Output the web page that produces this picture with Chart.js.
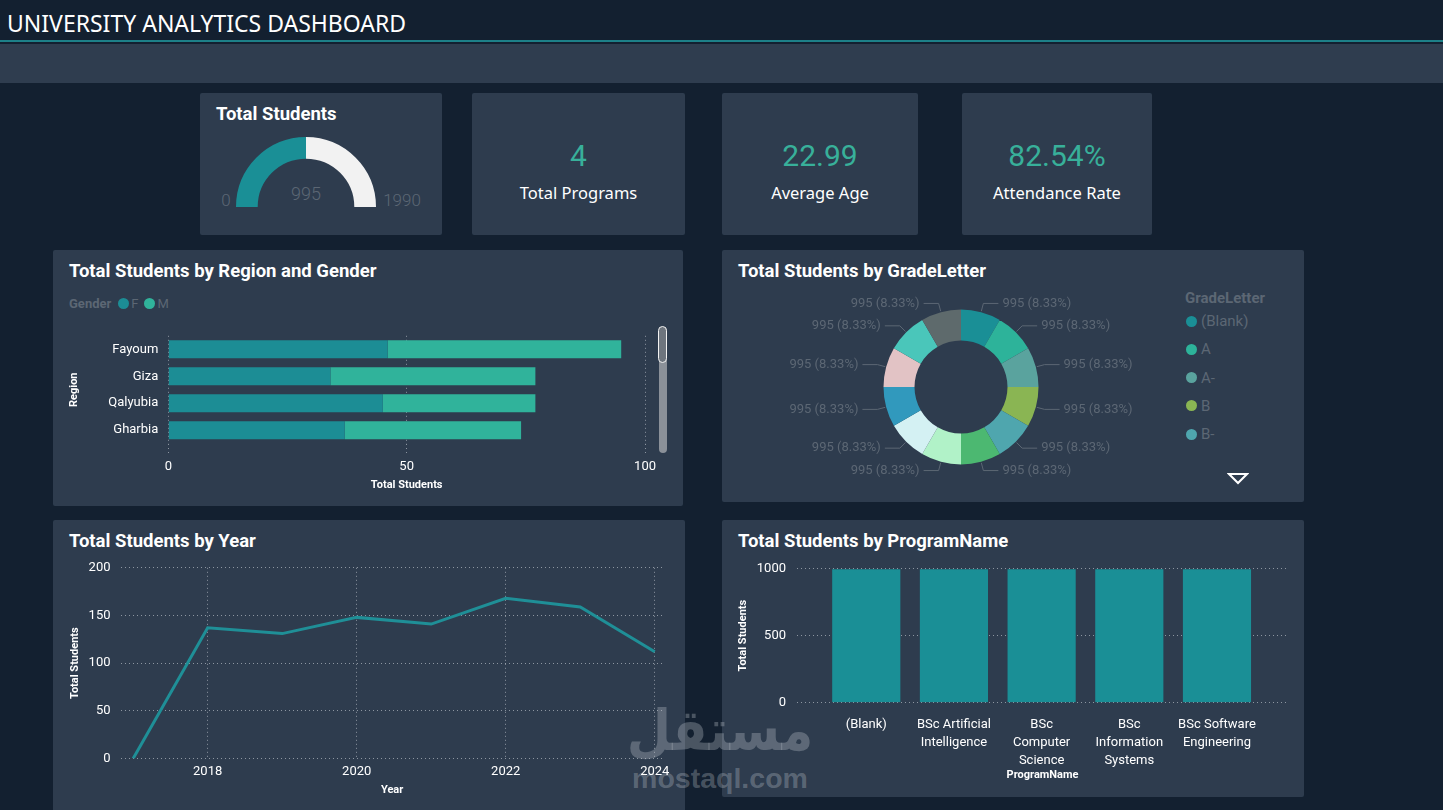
<!DOCTYPE html>
<html>
<head>
<meta charset="utf-8">
<title>University Analytics Dashboard</title>
<script src="https://cdn.jsdelivr.net/npm/chart.js@4.4.1/dist/chart.umd.min.js"></script>
<style>
  html, body { margin: 0; padding: 0; }
  body {
    width: 1443px; height: 810px; overflow: hidden; position: relative;
    background: #132030; color: #fff; font-family: "Noto Sans", sans-serif;
  }
  .abs { position: absolute; }
  .card { position: absolute; background: #2e3c4e; border-radius: 2px; }
  .title { position: absolute; font-family: Roboto; font-weight: 700; font-size: 18.5px; line-height: 22px; white-space: nowrap; }
  .kpi { position: absolute; left: 0; right: 0; text-align: center; }
  .kpi-val { font-family: Roboto; font-size: 30px; color: #38b09a; line-height: 36px; }
  .kpi-lbl { font-size: 16.5px; line-height: 22px; }
  .dim { color: #5c6774; }
  .box { position: absolute; z-index: 2; }
  .dot { display: inline-block; width: 11px; height: 11px; border-radius: 50%; vertical-align: middle; }
</style>
</head>
<body>

<!-- header -->
<div class="abs" style="left:7px;top:7px;font-size:23px;line-height:32px;">UNIVERSITY ANALYTICS DASHBOARD</div>
<div class="abs" style="left:0;top:40px;width:1443px;height:2px;background:#1d8088;"></div>
<div class="abs" style="left:0;top:44px;width:1443px;height:39px;background:#2f3d4f;"></div>

<!-- KPI cards -->
<div class="card" style="left:200px;top:93px;width:242px;height:142px;">
  <div class="title" style="left:16px;top:10px;">Total Students</div>
</div>
<div class="box" style="left:236px;top:137px;width:140px;height:70px;"><canvas id="gauge"></canvas></div>
<div class="abs dim" id="gMin" style="left:219px;top:188px;width:14px;text-align:center;font-family:Roboto;font-weight:300;font-size:17px;line-height:24px;"></div>
<div class="abs dim" id="gVal" style="left:276px;top:182px;width:60px;text-align:center;font-family:Roboto;font-weight:300;font-size:18px;line-height:24px;"></div>
<div class="abs dim" id="gMax" style="left:380px;top:188px;width:44px;text-align:center;font-family:Roboto;font-weight:300;font-size:17px;line-height:24px;"></div>

<div class="card" style="left:472px;top:93px;width:213px;height:142px;">
  <div class="kpi kpi-val" style="top:45px;" id="kProg"></div>
  <div class="kpi kpi-lbl" style="top:89px;">Total Programs</div>
</div>
<div class="card" style="left:722px;top:93px;width:196px;height:142px;">
  <div class="kpi kpi-val" style="top:45px;" id="kAge"></div>
  <div class="kpi kpi-lbl" style="top:89px;">Average Age</div>
</div>
<div class="card" style="left:962px;top:93px;width:190px;height:142px;">
  <div class="kpi kpi-val" style="top:45px;" id="kAtt"></div>
  <div class="kpi kpi-lbl" style="top:89px;">Attendance Rate</div>
</div>

<!-- region / gender -->
<div class="card" style="left:53px;top:250px;width:630px;height:256px;">
  <div class="title" style="left:16px;top:10px;">Total Students by Region and Gender</div>
</div>
<div class="abs" id="genderLegend" style="left:69px;top:295px;font-family:Roboto;font-size:13px;line-height:18px;color:#5c6774;white-space:nowrap;"></div>
<div class="box" style="left:60px;top:318px;width:600px;height:182px;"><canvas id="regionChart"></canvas></div>
<div class="abs" style="left:659px;top:327px;width:8px;height:126px;background:#8b9199;border-radius:4px;"></div>
<div class="abs" style="left:658px;top:326px;width:7px;height:35px;background:#6e757e;border:1.5px solid #f2f2f2;border-radius:5px;"></div>

<!-- grade letter -->
<div class="card" style="left:722px;top:250px;width:582px;height:252px;">
  <div class="title" style="left:16px;top:10px;">Total Students by GradeLetter</div>
</div>
<div class="box" style="left:741px;top:287px;width:440px;height:200px;"><canvas id="gradeChart"></canvas></div>
<div class="abs" id="gradeLegend" style="left:1185px;top:287px;font-family:Roboto;font-size:15px;color:#5c6774;white-space:nowrap;"></div>
<svg class="abs" style="left:1227px;top:472px;" width="22" height="13">
  <polygon points="2,2 20,2 11,11" fill="none" stroke="#ffffff" stroke-width="2"/>
</svg>

<!-- by year -->
<div class="card" style="left:53px;top:520px;width:632px;height:292px;">
  <div class="title" style="left:16px;top:10px;">Total Students by Year</div>
</div>

<!-- by program -->
<div class="card" style="left:722px;top:520px;width:582px;height:277px;">
  <div class="title" style="left:16px;top:10px;">Total Students by ProgramName</div>
</div>

<!-- watermark (under the chart canvases) -->
<div class="abs" style="left:620px;top:699px;width:200px;text-align:center;color:rgba(202,208,214,0.3);font-weight:700;z-index:1;">
  <div style="font-family:'DejaVu Sans';font-size:51px;line-height:64px;transform:scaleY(1.12);" dir="rtl">مستقل</div>
  <div style="font-family:'Liberation Sans';font-size:28.5px;line-height:30px;">mostaql.com</div>
</div>

<div class="box" style="left:60px;top:549.5px;width:615px;height:250.5px;"><canvas id="yearChart"></canvas></div>
<div class="box" style="left:728px;top:549.5px;width:570px;height:245.5px;"><canvas id="programChart"></canvas></div>

<script>
// ---- data ----
const totalStudents = 995;
const gaugeMax = 1990;
const totalPrograms = 4;
const averageAge = 22.99;
const attendanceRate = 82.54;

const regions = ["Fayoum", "Giza", "Qalyubia", "Gharbia"];
const genders = ["F", "M"];
const femaleCounts = [46, 34, 45, 37];
const maleCounts = [49, 43, 32, 37];
const regionTicks = [0, 50, 100];

const gradeLetters = ["(Blank)", "A", "A-", "B", "B-", "B+", "C", "C-", "C+", "D", "D+", "F"];
const gradeCounts = [995, 995, 995, 995, 995, 995, 995, 995, 995, 995, 995, 995];
const gradeLegendShown = 5;

const years = [2017, 2018, 2019, 2020, 2021, 2022, 2023, 2024];
const yearCounts = [0, 137, 131, 148, 141, 168, 159, 112];
const yearTicks = [2018, 2020, 2022, 2024];

const programNames = ["(Blank)", "BSc Artificial Intelligence", "BSc Computer Science", "BSc Information Systems", "BSc Software Engineering"];
const programTickLines = [["(Blank)"], ["BSc Artificial", "Intelligence"], ["BSc", "Computer", "Science"], ["BSc", "Information", "Systems"], ["BSc Software", "Engineering"]];
const programCounts = [995, 995, 995, 995, 995];

// ---- styles ----
const TEAL = "#1a8f96";
const F_COLOR = "#1c8d95";
const M_COLOR = "#30b39b";
const GRADE_COLORS = ["#1a8f96", "#2db39a", "#5aa39e", "#8ab553", "#4fa6ae", "#4cb871",
                      "#b1f2c8", "#d4f1f3", "#3199bd", "#e2c3c5", "#4ac6ba", "#5e6a6c"];
const DIM = "#5c6774";
const GRID = "rgba(205,210,216,0.6)";
const AXIS_TITLE_FONT = { family: "Roboto", size: 11, weight: "bold" };
const TICK_FONT = { family: "Roboto", size: 13 };

Chart.defaults.font.family = "Roboto";
Chart.defaults.color = "#ffffff";
Chart.defaults.animation = false;
Chart.defaults.plugins.legend.display = false;
Chart.defaults.plugins.tooltip.enabled = false;

// ---- KPI text ----
document.getElementById("kProg").textContent = totalPrograms;
document.getElementById("kAge").textContent = averageAge.toFixed(2);
document.getElementById("kAtt").textContent = attendanceRate.toFixed(2) + "%";
document.getElementById("gMin").textContent = 0;
document.getElementById("gVal").textContent = totalStudents;
document.getElementById("gMax").textContent = gaugeMax;

// ---- legends ----
document.getElementById("genderLegend").innerHTML =
  '<b style="margin-right:7px">Gender</b>' +
  genders.map((g, i) => '<span class="dot" style="background:' + [F_COLOR, M_COLOR][i] +
    ';margin-right:2px;position:relative;top:-1px"></span><span style="margin-right:6px">' + g + '</span>').join("");

document.getElementById("gradeLegend").innerHTML =
  '<div style="font-weight:700;line-height:22px;margin-bottom:2px">GradeLetter</div>' +
  gradeLetters.slice(0, gradeLegendShown).map((g, i) =>
    '<div style="height:28.3px;line-height:20px"><span class="dot" style="background:' + GRADE_COLORS[i] +
    ';margin-left:1px;margin-right:4px;position:relative;top:-1px"></span>' + g + '</div>').join("");

// ---- gauge ----
new Chart(document.getElementById("gauge"), {
  type: "doughnut",
  data: {
    labels: ["Total Students", "Remaining"],
    datasets: [{ data: [totalStudents, gaugeMax - totalStudents], backgroundColor: [TEAL, "#f2f2f2"], borderWidth: 0 }]
  },
  options: { responsive: true, maintainAspectRatio: false, rotation: -90, circumference: 180, cutout: "69%" }
});

// ---- region and gender ----
new Chart(document.getElementById("regionChart"), {
  type: "bar",
  data: {
    labels: regions,
    datasets: [
      { label: genders[0], data: femaleCounts, backgroundColor: F_COLOR },
      { label: genders[1], data: maleCounts, backgroundColor: M_COLOR }
    ]
  },
  options: {
    indexAxis: "y",
    responsive: true, maintainAspectRatio: false,
    layout: { padding: { top: 15.6, right: 12.4, bottom: 0, left: 0 } },
    datasets: { bar: { barPercentage: 0.67, categoryPercentage: 1 } },
    scales: {
      x: {
        stacked: true, min: 0, max: 100,
        afterBuildTicks: s => { s.ticks = regionTicks.map(v => ({ value: v })); },
        ticks: { font: TICK_FONT, padding: 4 },
        grid: { color: GRID, tickColor: GRID, tickLength: 11, tickBorderDash: [1, 3] },
        border: { display: false, dash: [1, 3] },
        title: { display: true, text: "Total Students", font: AXIS_TITLE_FONT, padding: { top: 0, bottom: 8.4 } },
        afterFit: s => { s.height = 56.3; }
      },
      y: {
        stacked: true,
        grid: { display: false, drawTicks: false },
        border: { display: false },
        ticks: { font: TICK_FONT, padding: 10 },
        title: { display: true, text: "Region", font: AXIS_TITLE_FONT, padding: { top: 8, bottom: 0 } },
        afterFit: s => { s.width = 108.3; }
      }
    }
  }
});

// ---- grade letter donut ----
const donutLabels = {
  id: "donutLabels",
  afterDatasetsDraw(chart) {
    const ctx = chart.ctx;
    const values = chart.data.datasets[0].data;
    const total = values.reduce((a, b) => a + b, 0);
    ctx.save();
    ctx.strokeStyle = DIM;
    ctx.fillStyle = DIM;
    ctx.lineWidth = 1;
    ctx.font = "13px Roboto";
    ctx.textBaseline = "middle";
    chart.getDatasetMeta(0).data.forEach((arc, i) => {
      const p = arc.getProps(["x", "y", "startAngle", "endAngle", "outerRadius"], true);
      const mid = (p.startAngle + p.endAngle) / 2;
      const c = Math.cos(mid), s = Math.sin(mid);
      const x0 = p.x + c * (p.outerRadius + 1), y0 = p.y + s * (p.outerRadius + 1);
      const x1 = p.x + c * (p.outerRadius + 9), y1 = p.y + s * (p.outerRadius + 9);
      const dir = c >= 0 ? 1 : -1;
      const x2 = x1 + dir * 15;
      ctx.beginPath();
      ctx.moveTo(x0, y0);
      ctx.lineTo(x1, y1);
      ctx.lineTo(x2, y1);
      ctx.stroke();
      ctx.textAlign = dir > 0 ? "left" : "right";
      ctx.fillText(values[i] + " (" + (values[i] / total * 100).toFixed(2) + "%)", x2 + dir * 4, y1);
    });
    ctx.restore();
  }
};

new Chart(document.getElementById("gradeChart"), {
  type: "doughnut",
  data: {
    labels: gradeLetters,
    datasets: [{ data: gradeCounts, backgroundColor: GRADE_COLORS, borderWidth: 0 }]
  },
  options: {
    responsive: true, maintainAspectRatio: false,
    cutout: "60%",
    layout: { padding: { top: 22.5, bottom: 22.5 } }
  },
  plugins: [donutLabels]
});

// ---- by year ----
new Chart(document.getElementById("yearChart"), {
  type: "line",
  data: {
    datasets: [{
      label: "Total Students",
      data: years.map((y, i) => ({ x: y, y: yearCounts[i] })),
      borderColor: "#1f8f97", borderWidth: 3, pointRadius: 0, tension: 0
    }]
  },
  options: {
    responsive: true, maintainAspectRatio: false,
    layout: { padding: { top: 7.3, right: 11.3, bottom: 0, left: 0 } },
    scales: {
      x: {
        type: "linear", min: 2016.83, max: 2024.12,
        afterBuildTicks: s => { s.ticks = yearTicks.map(v => ({ value: v })); },
        ticks: { font: TICK_FONT, padding: 5, callback: v => String(v) },
        grid: { color: GRID, drawTicks: false },
        border: { display: false, dash: [1, 3] },
        title: { display: true, text: "Year", font: AXIS_TITLE_FONT, padding: { top: 0, bottom: 4 } },
        afterFit: s => { s.height = 42; }
      },
      y: {
        min: 0, max: 200,
        ticks: { stepSize: 50, font: TICK_FONT, padding: 10 },
        grid: { color: GRID, drawTicks: false },
        border: { display: false, dash: [1, 3] },
        title: { display: true, text: "Total Students", font: AXIS_TITLE_FONT, padding: { top: 8.4, bottom: 0 } },
        afterFit: s => { s.width = 60.5; }
      }
    }
  }
});

// ---- by program ----
new Chart(document.getElementById("programChart"), {
  type: "bar",
  data: {
    datasets: [{
      label: "Total Students",
      data: programCounts.map((v, i) => ({ x: i, y: v })),
      backgroundColor: TEAL, barThickness: 67.5
    }]
  },
  options: {
    responsive: true, maintainAspectRatio: false,
    layout: { padding: { top: 7.3, right: 10, bottom: 0, left: 0 } },
    scales: {
      x: {
        type: "linear", min: -0.79, max: 4.81, offset: false,
        afterBuildTicks: s => { s.ticks = programNames.map((_, i) => ({ value: i })); },
        ticks: {
          font: { family: "Roboto", size: 13, lineHeight: 18 / 13 }, padding: 13,
          maxRotation: 0, autoSkip: false, callback: v => programTickLines[v]
        },
        grid: { display: false, drawTicks: false },
        border: { display: false },
        title: { display: true, text: "ProgramName", font: AXIS_TITLE_FONT, padding: { top: 0, bottom: 13.4 } },
        afterFit: s => { s.height = 93; }
      },
      y: {
        min: 0, max: 1000,
        ticks: { stepSize: 500, font: TICK_FONT, padding: 11, callback: v => String(v) },
        grid: { color: GRID, drawTicks: false },
        border: { display: false, dash: [1, 3] },
        title: { display: true, text: "Total Students", font: AXIS_TITLE_FONT, padding: { top: 8.4, bottom: 0 } },
        afterFit: s => { s.width = 69; }
      }
    }
  }
});
</script>
</body>
</html>
